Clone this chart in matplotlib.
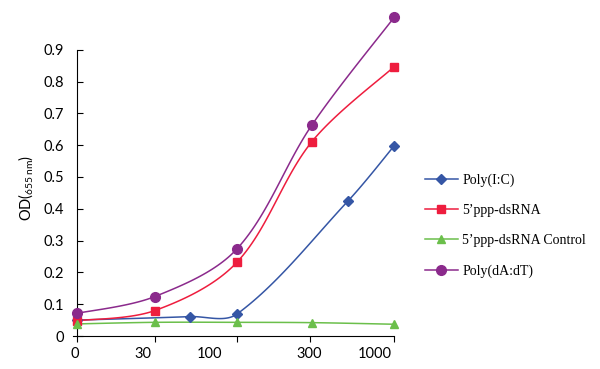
import numpy as np
import matplotlib
matplotlib.use("Agg")
import matplotlib.pyplot as plt
from matplotlib.lines import Line2D

plt.rcParams['font.family'] = ['Lato', 'DejaVu Sans']
plt.rcParams['mathtext.fontset'] = 'custom'
plt.rcParams['mathtext.rm'] = 'Lato'

# dose labels on the x axis and where the ticks sit (position along the axis)
tick_pos = [0, 0.985, 2.02, 2.94, 4.0]
tick_labels = ['0', '30', '100', '300', '1000']
label_pos = [-0.02, 0.84, 1.68, 2.93, 3.75]

# series: x positions along the axis and OD values
polyic_x = [0, 1.43, 2.02, 3.42, 4.0]
polyic_y = [0.050, 0.061, 0.069, 0.425, 0.598]

dsrna_x = [0, 0.985, 2.02, 2.96, 4.0]
dsrna_y = [0.048, 0.080, 0.232, 0.610, 0.847]

ctrl_x = [0, 0.985, 2.02, 2.96, 4.0]
ctrl_y = [0.038, 0.043, 0.043, 0.042, 0.037]

polydadt_x = [0, 0.985, 2.02, 2.96, 4.0]
polydadt_y = [0.071, 0.124, 0.274, 0.662, 1.002]

series = [
    ('Poly(I:C)', polyic_x, polyic_y, '#3556A5', 'D', 5.5),
    ('5\u2019ppp-dsRNA', dsrna_x, dsrna_y, '#EE1D3E', 's', 6),
    ('5\u2019ppp-dsRNA Control', ctrl_x, ctrl_y, '#6BBF4B', '^', 6),
    ('Poly(dA:dT)', polydadt_x, polydadt_y, '#8B2A8C', 'o', 7),
]

# rough pixel scale of one axis unit, used only to shape the smoothed curve
XS, YS = 79.4, 318.0


def smooth(xs, ys, n=30):
    """Smoothed line through the points (cubic Bezier, length-weighted)."""
    p = np.column_stack([np.array(xs) * XS, np.array(ys) * YS]).astype(float)
    pts = []
    for i in range(len(p) - 1):
        p0 = p[i - 1] if i > 0 else p[i]
        p1 = p[i]
        p2 = p[i + 1]
        p3 = p[i + 2] if i + 2 < len(p) else p[i + 1]
        d01 = np.hypot(*(p1 - p0))
        d12 = np.hypot(*(p2 - p1))
        d23 = np.hypot(*(p3 - p2))
        c1 = p1 + (p2 - p0) * (d12 / (d01 + d12) / 3 if d01 > 0 else 1 / 6)
        c2 = p2 - (p3 - p1) * (d12 / (d12 + d23) / 3 if d23 > 0 else 1 / 6)
        t = np.linspace(0, 1, n)[:, None]
        seg = ((1 - t) ** 3 * p1 + 3 * (1 - t) ** 2 * t * c1
               + 3 * (1 - t) * t ** 2 * c2 + t ** 3 * p2)
        pts.append(seg if i == 0 else seg[1:])
    pts = np.vstack(pts)
    return pts[:, 0] / XS, pts[:, 1] / YS


fig = plt.figure(figsize=(6, 3.69), dpi=100)
ax = fig.add_axes([0.121, 0.0894, 0.536, 0.862])

handles = []
for name, xs, ys, col, mk, ms in series:
    sx, sy = smooth(xs, ys)
    ax.plot(sx, sy, color=col, lw=1.1, clip_on=False)
    ax.plot(xs, ys, linestyle='none', marker=mk, color=col, ms=ms,
            clip_on=False, zorder=3)
    handles.append(Line2D([], [], color=col, lw=1.1, marker=mk, ms=ms, label=name))

ax.set_xlim(-0.05, 4.0)
ax.set_ylim(0, 1.0)
ax.spines['top'].set_visible(False)
ax.spines['right'].set_visible(False)
ax.spines['left'].set_position(('data', 0))
ax.spines['left'].set_bounds(0, 0.9)

ax.set_yticks(np.arange(0, 0.91, 0.1))
ax.set_yticklabels(['0'] + ['%.1f' % v for v in np.arange(0.1, 0.91, 0.1)])
ax.tick_params(axis='y', direction='in', length=4, pad=9, labelsize=10.5)

ax.set_xticks(tick_pos)
ax.set_xticklabels([])
ax.tick_params(axis='x', which='major', direction='out', length=4)
ax.set_xticks(label_pos, minor=True)
ax.set_xticklabels(tick_labels, minor=True)
ax.tick_params(axis='x', which='minor', length=0, pad=8, labelsize=10.5)

fig.text(0.042, 0.49, r'OD($\mathregular{_{655\,nm}}$)', rotation=90,
         ha='center', va='center', fontsize=10.5)

fig.legend(handles=handles, loc='upper left', bbox_to_anchor=(0.708, 0.53),
           frameon=False, borderpad=0, borderaxespad=0, handlelength=2.4,
           handletextpad=0.3, labelspacing=1.23,
           prop={'family': 'Liberation Serif', 'size': 10})

fig.savefig('out.png', dpi=100)
